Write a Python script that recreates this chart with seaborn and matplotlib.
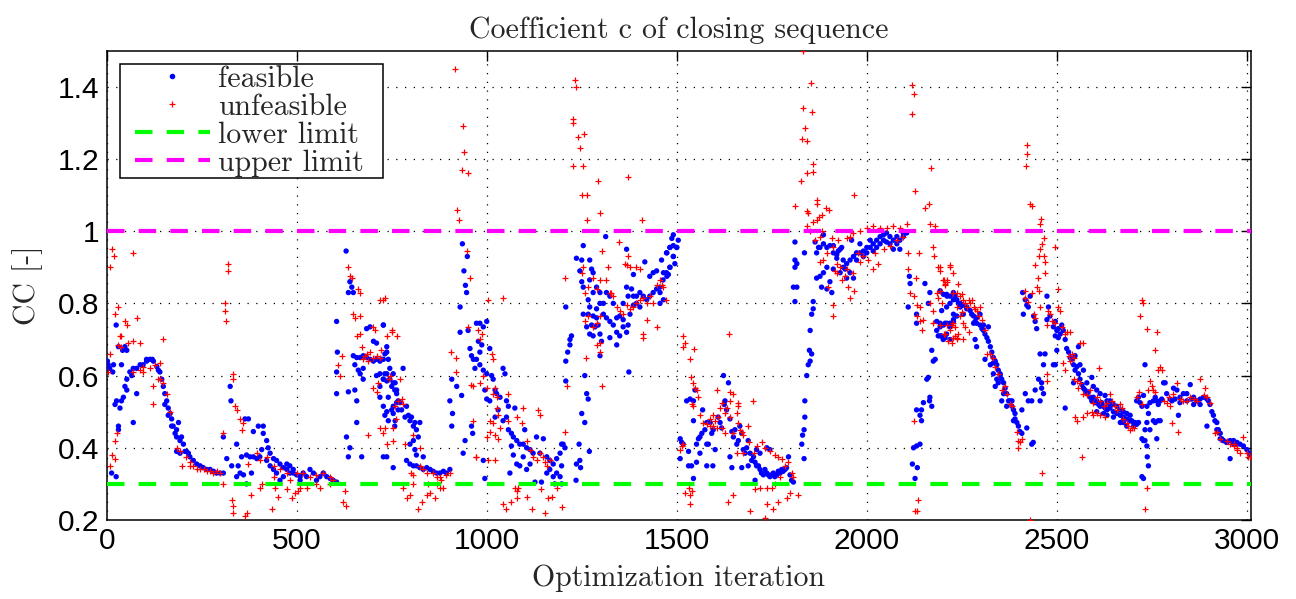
import matplotlib
matplotlib.use("Agg")
import matplotlib.pyplot as plt
import seaborn as sns
import pandas as pd
from matplotlib.lines import Line2D
from matplotlib.legend_handler import HandlerLine2D
from matplotlib.ticker import FuncFormatter

# ---------------- data ----------------
x_ticks = [0, 500, 1000, 1500, 2000, 2500, 3000]
y_ticks = [0.2, 0.4, 0.6, 0.8, 1.0, 1.2, 1.4]
lower_limit = 0.3
upper_limit = 1.0
series_labels = ["feasible", "unfeasible", "lower limit", "upper limit"]

run_a_feasible = [
    (2, 0.64), (8, 0.62), (4, 0.63), (18, 0.63), (16, 0.61), (25, 0.74), (31, 0.68), (22, 0.52), (26, 0.53),
    (31, 0.46), (31, 0.45), (13, 0.33), (25, 0.32), (35, 0.51), (39, 0.53), (44, 0.54), (48, 0.57), (53, 0.59),
    (61, 0.61), (66, 0.60), (70, 0.62), (79, 0.62), (88, 0.63), (96, 0.63), (105, 0.64), (114, 0.645),
    (123, 0.64), (132, 0.625), (136, 0.615), (140, 0.61), (145, 0.59), (149, 0.57), (153, 0.55), (158, 0.53),
    (162, 0.51), (167, 0.495), (171, 0.48), (175, 0.46), (180, 0.44), (184, 0.43), (193, 0.42), (202, 0.41),
    (210, 0.39), (219, 0.375), (228, 0.365), (237, 0.355), (246, 0.35), (254, 0.345), (263, 0.34), (272, 0.34),
    (281, 0.335), (289, 0.33), (298, 0.33), (307, 0.33), (70, 0.47), (79, 0.55), (53, 0.56), (39, 0.63),
    (42, 0.67), (48, 0.68), (53, 0.67), (105, 0.645), (120, 0.645), (153, 0.52), (162, 0.49), (171, 0.46),
    (184, 0.45), (189, 0.47), (197, 0.43), (206, 0.39), (215, 0.385), (193, 0.385), (184, 0.39),
]
run_a_unfeasible = [
    (13, 0.95), (19, 0.93), (9, 0.90), (70, 0.94), (31, 0.79), (22, 0.77), (48, 0.75), (53, 0.74), (79, 0.76),
    (35, 0.71), (39, 0.71), (31, 0.685), (39, 0.68), (57, 0.69), (70, 0.695), (88, 0.69), (147, 0.70),
    (9, 0.66), (4, 0.61), (70, 0.61), (88, 0.615), (96, 0.625), (114, 0.62), (127, 0.63), (140, 0.635),
    (123, 0.57), (136, 0.59), (123, 0.52), (22, 0.42), (26, 0.44), (13, 0.38), (22, 0.37), (9, 0.35),
    (184, 0.40), (193, 0.39), (210, 0.375), (219, 0.36), (228, 0.35), (237, 0.34), (246, 0.34), (263, 0.335),
    (281, 0.33), (298, 0.33), (197, 0.35), (96, 0.61), (140, 0.59), (149, 0.58), (158, 0.55), (167, 0.50),
    (219, 0.35), (255, 0.34), (272, 0.335), (290, 0.335),
]

run_b_feasible = [
    (325, 0.57), (327, 0.53), (307, 0.43), (316, 0.37), (329, 0.35), (342, 0.32), (364, 0.48), (373, 0.48),
    (386, 0.445), (399, 0.46), (412, 0.46), (421, 0.42), (425, 0.40), (430, 0.385), (439, 0.37), (447, 0.365),
    (456, 0.355), (465, 0.345), (474, 0.34), (482, 0.33), (491, 0.33), (500, 0.325), (509, 0.32), (526, 0.32),
    (544, 0.33), (561, 0.32), (579, 0.32), (596, 0.31), (605, 0.305), (355, 0.375), (368, 0.38), (377, 0.375),
    (386, 0.375), (395, 0.37), (403, 0.375), (408, 0.395), (346, 0.35), (351, 0.33), (360, 0.325), (368, 0.30),
    (381, 0.33), (342, 0.41), (412, 0.44), (421, 0.365), (430, 0.35), (439, 0.34), (447, 0.33), (456, 0.31),
    (465, 0.32), (474, 0.355), (482, 0.35), (491, 0.34), (509, 0.31), (517, 0.33), (535, 0.34), (552, 0.31),
    (570, 0.33), (588, 0.315),
]
run_b_unfeasible = [
    (305, 0.44), (305, 0.30), (320, 0.91), (320, 0.89), (311, 0.80), (311, 0.78), (314, 0.75),
    (333, 0.605), (333, 0.59), (338, 0.515), (342, 0.505), (351, 0.48), (360, 0.47), (355, 0.45), (329, 0.255),
    (333, 0.24), (333, 0.22), (364, 0.21), (368, 0.22), (381, 0.27), (403, 0.29), (408, 0.30), (434, 0.23),
    (443, 0.29), (452, 0.265), (474, 0.285), (487, 0.26), (496, 0.275), (504, 0.28), (509, 0.29), (526, 0.29),
    (552, 0.30), (561, 0.29), (588, 0.30), (395, 0.385), (403, 0.365), (421, 0.375), (439, 0.35), (456, 0.34),
    (474, 0.33), (500, 0.33), (517, 0.33), (535, 0.32), (552, 0.325), (570, 0.33), (588, 0.32), (596, 0.31),
    (627, 0.28), (623, 0.25), (631, 0.24), (373, 0.355), (439, 0.32), (482, 0.31),
]

run_c_feasible = [
    (630, 0.945), (636, 0.83), (645, 0.845), (649, 0.83), (640, 0.86), (605, 0.75), (607, 0.665), (605, 0.61),
    (605, 0.55), (636, 0.555), (653, 0.56), (631, 0.43), (636, 0.375), (640, 0.40), (658, 0.47), (671, 0.375),
    (649, 0.655), (658, 0.65), (667, 0.65), (675, 0.655), (684, 0.65), (693, 0.645), (702, 0.64), (710, 0.645),
    (719, 0.64), (728, 0.645), (741, 0.645), (684, 0.73), (693, 0.735), (702, 0.695), (710, 0.69), (728, 0.74),
    (737, 0.665), (745, 0.62), (754, 0.605), (759, 0.58), (763, 0.525), (767, 0.505), (732, 0.605), (737, 0.585),
    (741, 0.54), (750, 0.505), (754, 0.495), (759, 0.475), (737, 0.375), (667, 0.605), (662, 0.615), (675, 0.62),
    (653, 0.63), (675, 0.59), (710, 0.60), (719, 0.57), (728, 0.59), (732, 0.49), (741, 0.475), (763, 0.56),
    (658, 0.53), (728, 0.74), (737, 0.68), (732, 0.66), (723, 0.645), (719, 0.605), (728, 0.59), (737, 0.605),
    (745, 0.59), (754, 0.58), (758, 0.56), (750, 0.57), (763, 0.55), (767, 0.53), (772, 0.525), (776, 0.505),
    (780, 0.62), (785, 0.485), (789, 0.515), (794, 0.49), (798, 0.475), (802, 0.485), (807, 0.46), (811, 0.47),
    (815, 0.45), (798, 0.41), (807, 0.42), (811, 0.395), (815, 0.38), (789, 0.365), (798, 0.355), (807, 0.35),
    (815, 0.35), (824, 0.345), (833, 0.34), (842, 0.345), (851, 0.34), (859, 0.335), (868, 0.33), (877, 0.33),
    (886, 0.335), (894, 0.33), (903, 0.34), (758, 0.46), (754, 0.515), (719, 0.54), (728, 0.515), (737, 0.50),
    (754, 0.345), (824, 0.47), (820, 0.43), (833, 0.375), (728, 0.375),
]
run_c_unfeasible = [
    (636, 0.90), (640, 0.875), (645, 0.87), (662, 0.84), (667, 0.83), (649, 0.77), (667, 0.765), (653, 0.76),
    (658, 0.71), (667, 0.715), (671, 0.68), (684, 0.66), (693, 0.665), (680, 0.655), (675, 0.645), (688, 0.64),
    (702, 0.65), (710, 0.655), (719, 0.65), (728, 0.81), (732, 0.815), (702, 0.735), (706, 0.725), (737, 0.71),
    (752, 0.72), (702, 0.565), (710, 0.555), (715, 0.58), (728, 0.44), (719, 0.455), (688, 0.435), (759, 0.515),
    (761, 0.48), (754, 0.42), (610, 0.63), (618, 0.655), (614, 0.60), (744, 0.59), (745, 0.60), (719, 0.81),
    (750, 0.725), (763, 0.71), (723, 0.67), (772, 0.59), (776, 0.535), (767, 0.53), (780, 0.52), (754, 0.455),
    (732, 0.455), (785, 0.41), (737, 0.41), (807, 0.435), (824, 0.40), (802, 0.33), (807, 0.325), (824, 0.35),
    (833, 0.34), (842, 0.33), (859, 0.33), (868, 0.32), (877, 0.32), (894, 0.325), (903, 0.33), (780, 0.29),
    (789, 0.26), (798, 0.27), (820, 0.23), (829, 0.25), (842, 0.27), (851, 0.275), (864, 0.26), (877, 0.29),
    (886, 0.29), (807, 0.30), (846, 0.30), (868, 0.30), (881, 0.31),
]

run_d_feasible = [
    (936, 0.965), (949, 0.93), (940, 0.89), (944, 0.85), (947, 0.83), (930, 0.79), (930, 0.72), (908, 0.59),
    (903, 0.53), (908, 0.46), (910, 0.495), (934, 0.545), (921, 0.57), (938, 0.385), (943, 0.42), (960, 0.46),
    (963, 0.44), (951, 0.725), (956, 0.675), (960, 0.655), (965, 0.645), (969, 0.62), (973, 0.745), (982, 0.745),
    (991, 0.735), (1000, 0.75), (978, 0.695), (987, 0.685), (982, 0.665), (973, 0.645), (982, 0.63), (991, 0.615),
    (1000, 0.605), (1008, 0.675), (1013, 0.60), (1017, 0.59), (1022, 0.56), (1026, 0.55), (1035, 0.54),
    (1043, 0.62), (1048, 0.605), (1052, 0.53), (1057, 0.515), (1052, 0.485), (1043, 0.475), (1030, 0.505),
    (1022, 0.485), (1008, 0.53), (1000, 0.535), (995, 0.56), (991, 0.365), (995, 0.315), (1057, 0.45),
    (1065, 0.44), (1070, 0.43), (1074, 0.51), (1079, 0.42), (1087, 0.41), (1096, 0.41), (1100, 0.45),
    (1105, 0.40), (1114, 0.395), (1122, 0.385), (1131, 0.43), (1140, 0.385), (1149, 0.425), (1158, 0.375),
    (1166, 0.365), (1175, 0.355), (1184, 0.37), (1193, 0.385), (1197, 0.41), (1201, 0.41), (1206, 0.40),
    (1184, 0.33), (1175, 0.32), (1166, 0.34), (1061, 0.33), (1065, 0.405), (1070, 0.38), (1079, 0.355),
    (1087, 0.35), (1096, 0.375), (1105, 0.34), (1114, 0.355), (1127, 0.305), (1144, 0.305), (1158, 0.33),
    (1193, 0.32), (1197, 0.35), (1197, 0.30), (1179, 0.30),
]
run_d_unfeasible = [
    (916, 1.45), (937, 1.29), (941, 1.22), (936, 1.17), (951, 1.16), (923, 1.06), (928, 1.03), (947, 0.945),
    (956, 0.87), (906, 0.665), (919, 0.65), (919, 0.61), (978, 0.725), (987, 0.715), (982, 0.70), (1004, 0.81),
    (1043, 0.815), (958, 0.575), (965, 0.57), (965, 0.475), (972, 0.375), (951, 0.735), (982, 0.58), (991, 0.60),
    (1000, 0.565), (1013, 0.66), (1017, 0.645), (1022, 0.565), (1026, 0.54), (1017, 0.55), (1008, 0.475),
    (1017, 0.47), (1026, 0.51), (1030, 0.49), (1022, 0.435), (1035, 0.455), (1057, 0.55), (1057, 0.475),
    (1079, 0.485), (1092, 0.47), (1096, 0.51), (1030, 0.425), (1008, 0.445), (1000, 0.43), (1004, 0.365),
    (1022, 0.365), (1105, 0.42), (1114, 0.395), (1122, 0.375), (1131, 0.365), (1140, 0.385), (1149, 0.375),
    (1153, 0.36), (1158, 0.35), (1166, 0.365), (1074, 0.29), (1079, 0.28), (1083, 0.29), (1105, 0.265),
    (1043, 0.245), (1052, 0.23), (1065, 0.25), (1079, 0.26), (1118, 0.23), (1144, 0.285), (1153, 0.22),
    (1162, 0.26), (1171, 0.265), (1197, 0.235), (1184, 0.29), (1136, 0.505), (1140, 0.49), (1206, 0.445),
    (973, 0.375),
]

run_e_feasible = [
    (1208, 0.64), (1208, 0.585), (1208, 0.79), (1213, 0.665), (1219, 0.70), (1223, 0.71), (1219, 0.685),
    (1235, 0.31), (1236, 0.355), (1247, 0.345), (1245, 0.365), (1243, 0.41), (1270, 0.39), (1250, 0.495),
    (1258, 0.47), (1263, 0.55), (1267, 0.535), (1258, 0.60), (1254, 0.96), (1236, 0.925), (1250, 0.92),
    (1245, 0.89), (1250, 0.86), (1254, 0.845), (1271, 0.92), (1276, 0.895), (1280, 0.885), (1271, 0.865),
    (1289, 0.845), (1298, 0.83), (1307, 0.80), (1280, 0.83), (1271, 0.79), (1267, 0.77), (1263, 0.735),
    (1271, 0.715), (1276, 0.74), (1280, 0.71), (1285, 0.735), (1289, 0.76), (1293, 0.74), (1298, 0.715),
    (1302, 0.695), (1307, 0.77), (1315, 0.76), (1324, 0.75), (1333, 0.74), (1342, 0.76), (1350, 0.765),
    (1359, 0.735), (1368, 0.72), (1372, 0.74), (1377, 0.77), (1386, 0.795), (1394, 0.82), (1403, 0.83),
    (1412, 0.82), (1421, 0.81), (1429, 0.82), (1438, 0.83), (1447, 0.84), (1456, 0.845), (1464, 0.865),
    (1473, 0.885), (1482, 0.90), (1491, 0.93), (1500, 0.955), (1504, 0.975), (1491, 0.99), (1473, 0.94),
    (1482, 0.955), (1460, 0.92), (1447, 0.89), (1438, 0.885), (1429, 0.875), (1416, 0.915), (1386, 0.88),
    (1368, 0.845), (1372, 0.82), (1386, 0.82), (1394, 0.80), (1403, 0.79), (1333, 0.80), (1324, 0.82),
    (1315, 0.83), (1298, 0.80), (1289, 0.785), (1280, 0.765), (1267, 0.81), (1254, 0.77), (1342, 0.685),
    (1324, 0.705), (1342, 0.72), (1350, 0.71), (1359, 0.755), (1381, 0.84), (1368, 0.95), (1313, 0.985),
    (1298, 0.655), (1374, 0.61), (1359, 0.80), (1474, 0.94), (1482, 0.955), (1491, 0.96), (1500, 0.955),
    (1482, 0.90), (1465, 0.885), (1474, 0.875), (1456, 0.83), (1465, 0.81), (1456, 0.80), (1491, 0.93),
    (1495, 0.91), (1487, 0.98), (1478, 0.88),
]
run_e_unfeasible = [
    (1232, 1.42), (1235, 1.40), (1226, 1.31), (1228, 1.30), (1239, 1.26), (1256, 1.27), (1245, 1.23),
    (1228, 1.18), (1254, 1.18), (1250, 1.10), (1265, 1.10), (1264, 1.03), (1292, 1.14), (1298, 1.05),
    (1371, 1.15), (1409, 1.03), (1347, 0.97), (1304, 0.945), (1206, 0.87), (1260, 0.65), (1302, 0.57),
    (1210, 0.57), (1289, 0.685), (1298, 0.665), (1254, 0.90), (1250, 0.885), (1280, 0.87), (1289, 0.84),
    (1298, 0.865), (1324, 0.83), (1328, 0.83), (1315, 0.865), (1320, 0.90), (1333, 0.82), (1342, 0.79),
    (1350, 0.78), (1359, 0.77), (1368, 0.795), (1377, 0.785), (1386, 0.79), (1394, 0.80), (1403, 0.81),
    (1412, 0.815), (1421, 0.80), (1429, 0.82), (1438, 0.80), (1447, 0.85), (1456, 0.865), (1464, 0.845),
    (1473, 0.81), (1447, 0.735), (1421, 0.755), (1412, 0.715), (1412, 0.705), (1403, 0.895), (1394, 0.90),
    (1377, 0.90), (1368, 0.905), (1364, 0.91), (1372, 0.93), (1298, 0.765), (1289, 0.745), (1298, 0.69),
    (1280, 0.735), (1258, 0.75), (1267, 0.765), (1258, 0.83), (1267, 0.845), (1460, 0.85),
]

run_f_feasible = [
    (1509, 0.425), (1513, 0.415), (1517, 0.41), (1509, 0.37), (1531, 0.39), (1539, 0.35), (1544, 0.315),
    (1531, 0.35), (1526, 0.53), (1535, 0.535), (1544, 0.53), (1548, 0.56), (1544, 0.475), (1552, 0.41),
    (1557, 0.425), (1561, 0.43), (1566, 0.44), (1568, 0.505), (1574, 0.45), (1579, 0.47), (1588, 0.47),
    (1592, 0.44), (1596, 0.45), (1579, 0.41), (1583, 0.41), (1595, 0.35), (1601, 0.395), (1609, 0.485),
    (1614, 0.47), (1618, 0.455), (1623, 0.60), (1625, 0.52), (1627, 0.53), (1631, 0.505), (1636, 0.58),
    (1640, 0.48), (1645, 0.445), (1649, 0.43), (1653, 0.45), (1658, 0.41), (1662, 0.42), (1666, 0.46),
    (1671, 0.44), (1675, 0.395), (1680, 0.385), (1684, 0.40), (1688, 0.42), (1693, 0.385), (1697, 0.365),
    (1702, 0.375), (1706, 0.36), (1710, 0.35), (1715, 0.35), (1719, 0.34), (1723, 0.33), (1728, 0.325),
    (1732, 0.34), (1737, 0.33), (1741, 0.325), (1745, 0.32), (1750, 0.325), (1754, 0.33), (1758, 0.32),
    (1763, 0.325), (1767, 0.335), (1772, 0.33), (1776, 0.34), (1780, 0.335), (1785, 0.34), (1789, 0.345),
    (1794, 0.375), (1798, 0.325), (1802, 0.31), (1807, 0.305), (1640, 0.375), (1645, 0.345), (1671, 0.345),
    (1688, 0.35), (1706, 0.31), (1710, 0.395), (1719, 0.385), (1737, 0.40), (1745, 0.395), (1579, 0.35),
    (1561, 0.385), (1552, 0.36),
]
run_f_unfeasible = [
    (1516, 0.71), (1522, 0.69), (1517, 0.68), (1546, 0.675), (1535, 0.645), (1638, 0.715), (1537, 0.595),
    (1544, 0.58), (1548, 0.565), (1552, 0.56), (1555, 0.54), (1539, 0.52), (1542, 0.515), (1605, 0.56),
    (1640, 0.555), (1647, 0.55), (1640, 0.53), (1662, 0.525), (1658, 0.495), (1631, 0.51), (1618, 0.525),
    (1609, 0.485), (1561, 0.49), (1570, 0.47), (1579, 0.465), (1588, 0.46), (1596, 0.46), (1601, 0.475),
    (1605, 0.455), (1618, 0.455), (1627, 0.44), (1640, 0.485), (1649, 0.44), (1662, 0.47), (1666, 0.45),
    (1675, 0.435), (1688, 0.46), (1700, 0.53), (1710, 0.405), (1723, 0.415), (1732, 0.40), (1745, 0.39),
    (1758, 0.38), (1767, 0.375), (1776, 0.37), (1785, 0.35), (1794, 0.36), (1802, 0.33), (1807, 0.32),
    (1513, 0.405), (1517, 0.41), (1509, 0.395), (1522, 0.275), (1531, 0.29), (1535, 0.27), (1539, 0.28),
    (1535, 0.245), (1636, 0.25), (1649, 0.27), (1693, 0.225), (1732, 0.205), (1737, 0.245), (1754, 0.23),
    (1767, 0.25), (1789, 0.26), (1798, 0.275), (1820, 0.27), (1706, 0.285), (1719, 0.29), (1737, 0.29),
    (1750, 0.29), (1758, 0.30), (1772, 0.32), (1588, 0.48), (1596, 0.49), (1614, 0.51), (1627, 0.495),
    (1662, 0.515), (1671, 0.445), (1691, 0.415), (1702, 0.385), (1658, 0.385), (1675, 0.385),
]

run_g_feasible = [
    (1835, 0.37), (1829, 0.41), (1831, 0.435), (1835, 0.45), (1837, 0.485), (1837, 0.53), (1842, 0.60),
    (1846, 0.63), (1851, 0.64), (1855, 0.66), (1849, 0.67), (1851, 0.725), (1855, 0.77), (1859, 0.785),
    (1859, 0.805), (1811, 0.805), (1807, 0.845), (1816, 0.845), (1811, 0.90), (1816, 0.91), (1811, 0.92),
    (1811, 0.97), (1836, 0.94), (1864, 0.97), (1868, 0.94), (1873, 0.955), (1877, 0.955), (1886, 0.965),
    (1886, 0.99), (1868, 0.87), (1877, 0.875), (1881, 0.845), (1886, 0.885), (1895, 0.90), (1895, 0.84),
    (1903, 0.86), (1908, 0.83), (1912, 0.895), (1912, 0.94), (1921, 0.925), (1925, 0.945), (1930, 0.95),
    (1934, 0.955), (1938, 0.92), (1943, 0.895), (1947, 0.87), (1956, 0.885), (1960, 0.975), (1965, 0.87),
    (1973, 0.94), (1982, 0.965), (1991, 0.93), (2000, 0.955), (2009, 0.975), (2017, 0.965), (2026, 0.975),
    (2035, 0.985), (2044, 0.99), (2052, 0.995), (2061, 0.985), (2070, 0.975), (2079, 0.965), (2087, 0.95),
    (2096, 0.985), (2105, 0.995), (1895, 0.955), (1903, 0.96), (1912, 0.96), (1921, 0.935), (1930, 0.885),
    (1938, 0.90), (1947, 0.91), (1956, 0.92), (1965, 0.93), (1973, 0.92), (1982, 0.94), (1991, 0.945),
    (2000, 0.94), (2009, 0.955), (2017, 0.945), (2026, 0.955), (2035, 0.965), (2044, 0.975), (2052, 0.97),
    (2061, 0.965), (2070, 0.95), (2079, 0.985), (2087, 0.975), (2096, 0.995),
]
run_g_unfeasible = [
    (1831, 1.50), (1852, 1.41), (1833, 1.34), (1855, 1.33), (1837, 1.285), (1829, 1.255), (1842, 1.25),
    (1858, 1.185), (1859, 1.165), (1844, 1.16), (1826, 1.14), (1967, 1.10), (1811, 1.07), (1868, 1.085),
    (1870, 1.075), (1842, 1.055), (1846, 1.05), (1859, 1.025), (1868, 1.03), (1875, 1.04), (1881, 1.045),
    (1892, 1.065), (1901, 1.06), (1842, 1.015), (1851, 1.00), (1881, 1.00), (1908, 0.98), (1925, 0.975),
    (1947, 0.98), (1956, 0.985), (1965, 0.995), (1982, 1.00), (2000, 1.01), (2017, 1.015), (2035, 1.01),
    (2052, 1.01), (2070, 1.015), (2087, 1.01), (2105, 1.02), (1912, 0.955), (1921, 0.91), (1930, 0.90),
    (1947, 0.895), (1965, 0.885), (1978, 0.94), (1991, 0.93), (2004, 0.92), (2017, 0.895), (2030, 0.91),
    (2044, 0.95), (2061, 0.96), (2079, 0.975), (2096, 0.985), (1895, 0.94), (1886, 0.92), (1877, 0.915),
    (1864, 0.975), (1877, 0.985), (1921, 0.885), (1934, 0.865), (1951, 0.845), (1966, 0.835), (1956, 0.815),
    (1912, 0.795), (1910, 0.765), (1916, 0.89), (1899, 0.845), (1943, 0.875), (1982, 0.915), (2022, 0.94),
]

run_h_feasible = [
    (2109, 0.79), (2112, 0.875), (2114, 0.855), (2131, 0.77), (2131, 0.745), (2153, 0.855), (2166, 0.83),
    (2162, 0.80), (2171, 0.67), (2175, 0.64), (2180, 0.645), (2158, 0.59), (2162, 0.595), (2166, 0.54),
    (2165, 0.53), (2149, 0.525), (2144, 0.505), (2131, 0.505), (2140, 0.49), (2144, 0.475), (2171, 0.515),
    (2123, 0.40), (2131, 0.405), (2140, 0.41), (2120, 0.355), (2133, 0.345), (2127, 0.315), (2184, 0.75),
    (2193, 0.735), (2197, 0.71), (2206, 0.705), (2210, 0.715), (2219, 0.735), (2228, 0.75), (2237, 0.765),
    (2210, 0.825), (2219, 0.80), (2228, 0.81), (2232, 0.82), (2241, 0.80), (2210, 0.79), (2197, 0.78),
    (2206, 0.745), (2219, 0.70), (2201, 0.70), (2188, 0.71), (2184, 0.725), (2193, 0.835), (2202, 0.825),
    (2211, 0.82), (2219, 0.82), (2228, 0.83), (2237, 0.81), (2246, 0.80), (2254, 0.795), (2263, 0.79),
    (2272, 0.78), (2276, 0.77), (2281, 0.765), (2285, 0.75), (2289, 0.745), (2298, 0.74), (2303, 0.73),
    (2307, 0.725), (2311, 0.715), (2316, 0.705), (2320, 0.695), (2325, 0.68), (2329, 0.665), (2333, 0.65),
    (2338, 0.64), (2342, 0.63), (2346, 0.615), (2351, 0.60), (2355, 0.59), (2360, 0.58), (2364, 0.565),
    (2368, 0.55), (2373, 0.53), (2377, 0.53), (2382, 0.515), (2386, 0.505), (2390, 0.48), (2395, 0.47),
    (2399, 0.46), (2403, 0.445), (2193, 0.745), (2202, 0.74), (2211, 0.745), (2219, 0.745), (2228, 0.755),
    (2193, 0.71), (2228, 0.77), (2246, 0.79), (2254, 0.77), (2263, 0.785), (2281, 0.745), (2289, 0.76),
    (2298, 0.77), (2307, 0.74), (2320, 0.735), (2285, 0.70), (2289, 0.68), (2311, 0.645), (2325, 0.63),
    (2333, 0.635), (2342, 0.59), (2351, 0.605), (2333, 0.605), (2338, 0.57), (2346, 0.58), (2360, 0.55),
    (2355, 0.53), (2368, 0.515), (2382, 0.53), (2386, 0.475), (2390, 0.495), (2408, 0.505), (2408, 0.44),
    (2421, 0.455), (2434, 0.41), (2438, 0.415),
]
run_h_unfeasible = [
    (2118, 1.405), (2123, 1.38), (2118, 1.325), (2169, 1.175), (2127, 1.11), (2165, 1.075), (2153, 1.065),
    (2166, 1.02), (2180, 1.015), (2109, 0.94), (2138, 0.94), (2175, 0.955), (2177, 0.93), (2109, 0.895),
    (2129, 0.87), (2114, 0.83), (2123, 0.82), (2131, 0.795), (2140, 0.79), (2188, 0.90), (2193, 0.89),
    (2201, 0.865), (2210, 0.865), (2206, 0.85), (2219, 0.90), (2228, 0.885), (2237, 0.83), (2131, 0.765),
    (2140, 0.75), (2144, 0.725), (2166, 0.80), (2175, 0.78), (2188, 0.815), (2184, 0.83), (2197, 0.80),
    (2193, 0.74), (2219, 0.725), (2228, 0.705), (2237, 0.70), (2206, 0.715), (2175, 0.745), (2149, 0.755),
    (2123, 0.475), (2136, 0.255), (2132, 0.225), (2127, 0.225), (2193, 0.90), (2219, 0.905), (2202, 0.865),
    (2206, 0.855), (2211, 0.86), (2193, 0.835), (2228, 0.83), (2241, 0.855), (2237, 0.79), (2246, 0.82),
    (2250, 0.825), (2254, 0.81), (2259, 0.80), (2263, 0.79), (2268, 0.81), (2272, 0.80), (2276, 0.81),
    (2281, 0.79), (2285, 0.785), (2289, 0.78), (2294, 0.765), (2298, 0.79), (2303, 0.755), (2246, 0.765),
    (2250, 0.775), (2254, 0.745), (2259, 0.735), (2232, 0.735), (2228, 0.745), (2224, 0.74), (2211, 0.74),
    (2202, 0.715), (2215, 0.695), (2224, 0.69), (2237, 0.705), (2241, 0.715), (2254, 0.70), (2268, 0.72),
    (2232, 0.71), (2316, 0.66), (2311, 0.725), (2325, 0.66), (2333, 0.65), (2338, 0.625), (2346, 0.605),
    (2355, 0.56), (2364, 0.57), (2368, 0.55), (2377, 0.52), (2382, 0.515), (2395, 0.445), (2399, 0.42),
    (2403, 0.415), (2399, 0.40), (2408, 0.425),
]

run_i_feasible = [
    (2417, 0.55), (2425, 0.53), (2434, 0.53), (2410, 0.83), (2417, 0.81), (2421, 0.795), (2425, 0.79),
    (2412, 0.77), (2430, 0.82), (2439, 0.765), (2443, 0.75), (2447, 0.73), (2456, 0.66), (2456, 0.53),
    (2465, 0.55), (2460, 0.565), (2465, 0.63), (2469, 0.66), (2474, 0.755), (2478, 0.79), (2474, 0.82),
    (2482, 0.765), (2491, 0.735), (2496, 0.75), (2500, 0.725), (2504, 0.73), (2509, 0.715), (2513, 0.74),
    (2517, 0.725), (2522, 0.70), (2526, 0.675), (2531, 0.665), (2535, 0.65), (2539, 0.645), (2544, 0.63),
    (2548, 0.615), (2553, 0.625), (2557, 0.605), (2561, 0.59), (2566, 0.575), (2570, 0.565), (2574, 0.56),
    (2579, 0.55), (2583, 0.555), (2588, 0.54), (2592, 0.53), (2596, 0.54), (2601, 0.525), (2605, 0.53),
    (2610, 0.52), (2614, 0.515), (2618, 0.525), (2623, 0.515), (2627, 0.51), (2632, 0.505), (2636, 0.52),
    (2640, 0.51), (2649, 0.50), (2658, 0.495), (2667, 0.49), (2675, 0.485), (2684, 0.48), (2693, 0.475),
    (2702, 0.47), (2710, 0.465), (2715, 0.47), (2500, 0.67), (2496, 0.63), (2522, 0.51), (2544, 0.58),
    (2548, 0.655), (2557, 0.68), (2561, 0.63), (2570, 0.615), (2579, 0.58), (2592, 0.595), (2596, 0.57),
    (2605, 0.56), (2614, 0.55), (2627, 0.545), (2632, 0.53), (2640, 0.53), (2649, 0.52), (2658, 0.515),
    (2667, 0.505), (2675, 0.50), (2684, 0.495), (2693, 0.49), (2697, 0.475), (2702, 0.46), (2706, 0.47),
    (2684, 0.46), (2675, 0.47), (2667, 0.47), (2649, 0.485), (2632, 0.49), (2623, 0.495), (2605, 0.50),
    (2491, 0.63), (2496, 0.71), (2504, 0.705), (2443, 0.56), (2452, 0.59), (2460, 0.58),
]
run_i_unfeasible = [
    (2421, 1.24), (2421, 1.215), (2418, 1.18), (2430, 1.075), (2434, 1.07), (2459, 1.035), (2456, 1.02),
    (2460, 0.965), (2465, 0.98), (2456, 0.95), (2452, 0.93), (2465, 0.93), (2468, 0.915), (2443, 0.905),
    (2469, 0.885), (2450, 0.87), (2447, 0.845), (2452, 0.835), (2496, 0.955), (2502, 0.84), (2417, 0.835),
    (2417, 0.815), (2425, 0.805), (2434, 0.83), (2439, 0.77), (2443, 0.76), (2456, 0.79), (2474, 0.74),
    (2478, 0.78), (2482, 0.77), (2487, 0.75), (2496, 0.745), (2504, 0.79), (2509, 0.78), (2513, 0.735),
    (2526, 0.72), (2535, 0.72), (2539, 0.66), (2544, 0.65), (2517, 0.635), (2522, 0.615), (2531, 0.655),
    (2561, 0.69), (2570, 0.69), (2474, 0.605), (2474, 0.585), (2460, 0.33), (2430, 0.20), (2566, 0.375),
    (2522, 0.715), (2535, 0.64), (2544, 0.59), (2553, 0.585), (2557, 0.565), (2561, 0.58), (2570, 0.55),
    (2579, 0.545), (2588, 0.56), (2596, 0.525), (2605, 0.54), (2614, 0.53), (2623, 0.515), (2632, 0.525),
    (2640, 0.55), (2645, 0.53), (2653, 0.515), (2658, 0.505), (2667, 0.52), (2671, 0.51), (2675, 0.48),
    (2684, 0.47), (2688, 0.46), (2693, 0.45), (2697, 0.455), (2702, 0.455), (2605, 0.495), (2596, 0.49),
    (2614, 0.49), (2627, 0.485), (2553, 0.475), (2548, 0.485), (2570, 0.485), (2579, 0.495), (2592, 0.50),
    (2610, 0.62),
]

run_j_feasible = [
    (2710, 0.53), (2715, 0.54), (2719, 0.525), (2724, 0.515), (2728, 0.545), (2732, 0.63), (2737, 0.47),
    (2732, 0.45), (2728, 0.42), (2724, 0.425), (2732, 0.42), (2737, 0.405), (2738, 0.375), (2741, 0.35),
    (2724, 0.32), (2728, 0.315), (2745, 0.45), (2754, 0.475), (2759, 0.47), (2763, 0.425), (2767, 0.475),
    (2772, 0.475), (2741, 0.495), (2737, 0.515), (2745, 0.525), (2754, 0.53), (2759, 0.54), (2763, 0.53),
    (2767, 0.52), (2772, 0.53), (2776, 0.535), (2781, 0.58), (2785, 0.58), (2789, 0.55), (2798, 0.535),
    (2803, 0.53), (2807, 0.565), (2816, 0.56), (2820, 0.49), (2824, 0.54), (2833, 0.55), (2842, 0.55),
    (2851, 0.575), (2855, 0.535), (2860, 0.54), (2868, 0.53), (2877, 0.535), (2886, 0.54), (2895, 0.535),
    (2899, 0.53), (2903, 0.52), (2908, 0.50), (2912, 0.49), (2916, 0.475), (2921, 0.47), (2925, 0.45),
    (2930, 0.44), (2934, 0.425), (2938, 0.42), (2947, 0.415), (2956, 0.42), (2965, 0.41), (2973, 0.41),
    (2895, 0.46), (2860, 0.52), (2877, 0.52), (2824, 0.525), (2842, 0.53), (2811, 0.535), (2921, 0.45),
    (2930, 0.425), (2938, 0.42), (2947, 0.415), (2956, 0.37), (2965, 0.42), (2974, 0.415), (2982, 0.41),
    (2991, 0.405), (3000, 0.395), (3006, 0.385), (3009, 0.38),
]
run_j_unfeasible = [
    (2724, 0.81), (2728, 0.80), (2719, 0.765), (2737, 0.73), (2763, 0.72), (2759, 0.67), (2772, 0.625),
    (2776, 0.615), (2767, 0.615), (2745, 0.585), (2750, 0.57), (2754, 0.56), (2759, 0.555), (2741, 0.56),
    (2724, 0.52), (2715, 0.555), (2710, 0.54), (2781, 0.53), (2789, 0.525), (2798, 0.515), (2794, 0.54),
    (2807, 0.55), (2816, 0.58), (2824, 0.535), (2833, 0.53), (2842, 0.53), (2851, 0.54), (2860, 0.535),
    (2868, 0.53), (2877, 0.59), (2886, 0.545), (2890, 0.565), (2895, 0.54), (2903, 0.525), (2820, 0.445),
    (2803, 0.47), (2737, 0.29), (2732, 0.23), (2916, 0.44), (2921, 0.445), (2930, 0.425), (2947, 0.42),
    (2956, 0.41), (2965, 0.405), (2973, 0.395), (2965, 0.41), (2974, 0.40), (2982, 0.385), (2991, 0.43),
    (3000, 0.385), (3004, 0.375), (3008, 0.375),
]

feasible_runs = [run_a_feasible, run_b_feasible, run_c_feasible, run_d_feasible, run_e_feasible,
                 run_f_feasible, run_g_feasible, run_h_feasible, run_i_feasible, run_j_feasible]
unfeasible_runs = [run_a_unfeasible, run_b_unfeasible, run_c_unfeasible, run_d_unfeasible, run_e_unfeasible,
                   run_f_unfeasible, run_g_unfeasible, run_h_unfeasible, run_i_unfeasible, run_j_unfeasible]

# ---------------- build table ----------------
rows = []
for run in feasible_runs:
    for it, cc in run:
        rows.append({"iteration": it, "CC": cc, "status": "feasible"})
for run in unfeasible_runs:
    for it, cc in run:
        rows.append({"iteration": it, "CC": cc, "status": "unfeasible"})
df = pd.DataFrame(rows)

# ---------------- style ----------------
sns.set_theme(style="white")
plt.rcParams["font.family"] = ["Liberation Sans", "DejaVu Sans"]
serif = "cmr10"

BLUE = "#0000ff"
RED = "#ff0000"
GREEN = "#00ff00"
MAGENTA = "#ff00ff"

fig = plt.figure(figsize=(12.96, 5.99), dpi=100)
ax = fig.add_axes([0.0823, 0.1319, 0.8830, 0.7835])

sns.scatterplot(data=df[df["status"] == "feasible"], x="iteration", y="CC", ax=ax,
                color=BLUE, marker="o", s=15, edgecolor="none", linewidth=0, legend=False, zorder=3)
sns.scatterplot(data=df[df["status"] == "unfeasible"], x="iteration", y="CC", ax=ax,
                color=RED, marker="+", s=16, linewidth=0.9, legend=False, zorder=4)

dash = (0, (4.2, 3.4))
ax.axhline(lower_limit, color=GREEN, lw=3, ls=dash, zorder=5)
ax.axhline(upper_limit, color=MAGENTA, lw=3, ls=dash, zorder=5)

ax.set_xlim(0, 3011)
ax.set_ylim(0.2, 1.5)
ax.set_xticks(x_ticks)
ax.set_yticks(y_ticks)
ax.yaxis.set_major_formatter(FuncFormatter(lambda v, p: "%g" % round(v, 2)))
ax.grid(True, color="black", linestyle=(0, (1, 6)), linewidth=0.9)
ax.set_axisbelow(True)
ax.tick_params(direction="in", length=7, width=1, top=True, right=True,
               labelsize=21.5, pad=5, colors="black")
for sp in ax.spines.values():
    sp.set_color("black")
    sp.set_linewidth(1.1)
    sp.set_visible(True)

ax.set_title("Coefficient c of closing sequence", fontfamily=serif, fontsize=21.5, pad=9)
ax.set_xlabel("Optimization iteration", fontfamily=serif, fontsize=21.5, labelpad=7)
ax.set_ylabel("CC [-]", fontfamily=serif, fontsize=21.5, labelpad=11)

handles = [
    Line2D([], [], marker="o", color=BLUE, ls="none", ms=4.0, mec="none"),
    Line2D([], [], marker="+", color=RED, ls="none", ms=4.2, mew=0.9),
    Line2D([], [], color=GREEN, lw=3, ls=dash),
    Line2D([], [], color=MAGENTA, lw=3, ls=dash),
]
leg = ax.legend(handles, series_labels, loc="upper left", mode="expand",
                bbox_to_anchor=(0.0116, 0.5, 0.2298, 0.472),
                borderaxespad=0, prop={"family": serif, "size": 21.5}, frameon=True, fancybox=False,
                framealpha=1, edgecolor="black", labelspacing=0.02, handlelength=2.96,
                handletextpad=0.27, borderpad=0.05,
                handler_map={Line2D: HandlerLine2D(xpad=0.45)})
leg.get_frame().set_linewidth(1.1)
leg.set_zorder(10)

fig.savefig("out.png", dpi=100)
